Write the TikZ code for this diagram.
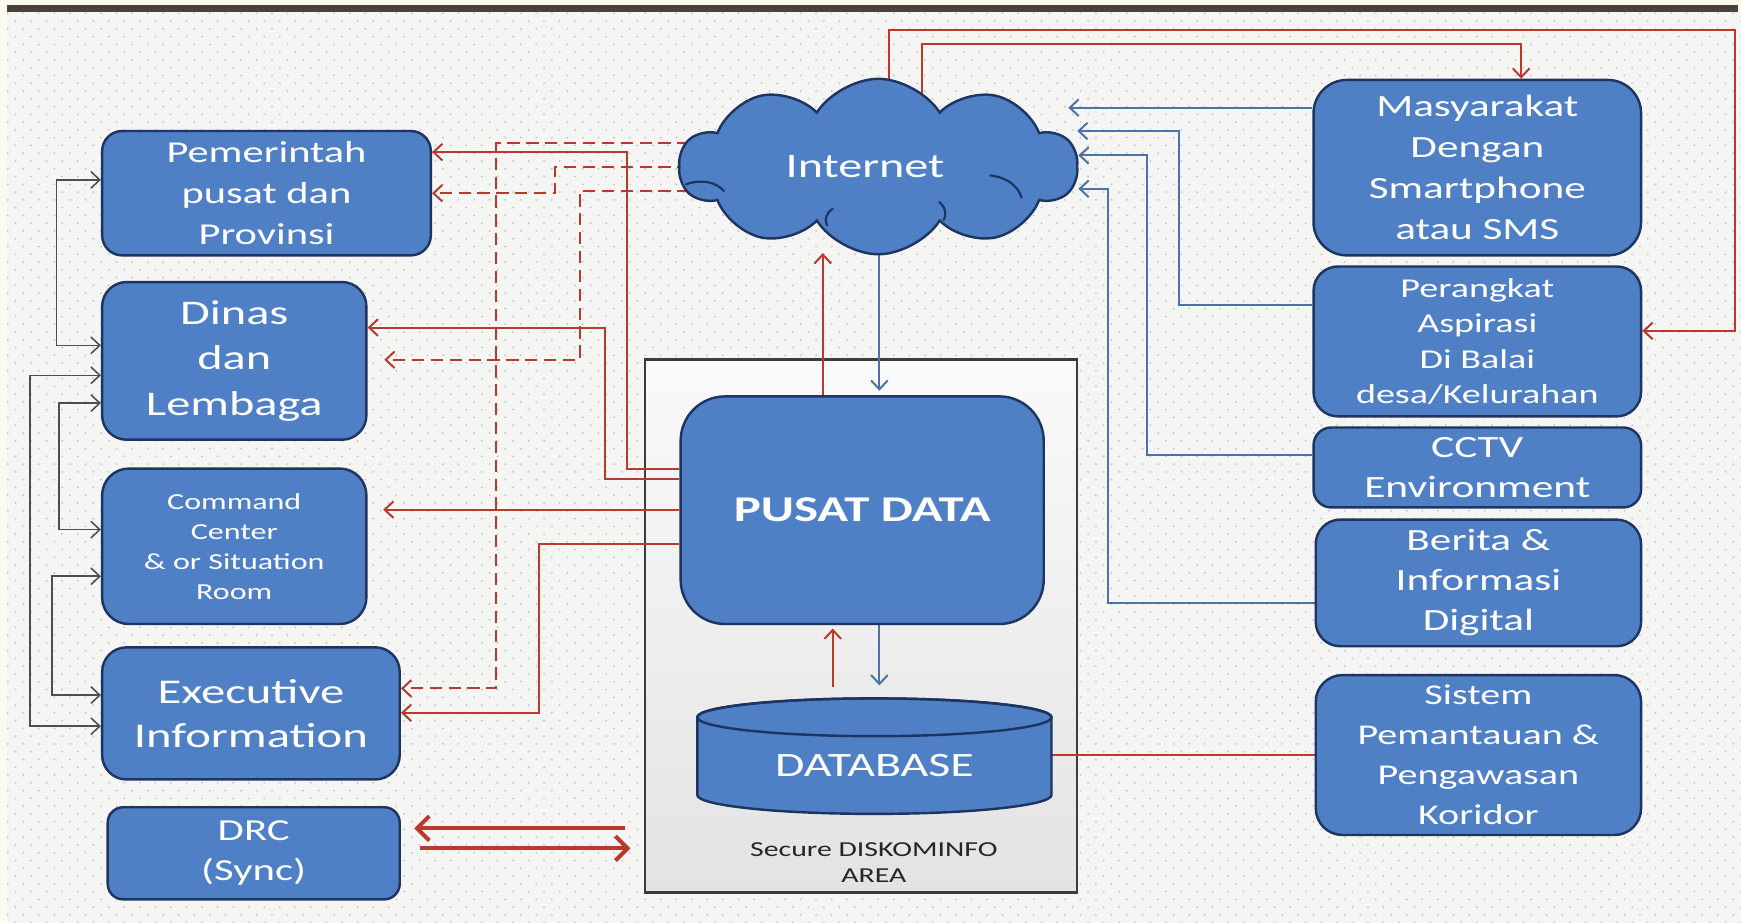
\documentclass[tikz,border=0pt]{standalone}
\usepackage{fontspec}
\setmainfont{Carlito}
\newfontfamily\wide{Carlito}[FakeStretch=1.4]
\usetikzlibrary{arrows.meta,shapes.symbols,patterns.meta,calc}

\definecolor{boxblue}{HTML}{4F80C6}
\definecolor{boxedge}{HTML}{1E3461}
\definecolor{linkred}{HTML}{B93A2C}
\definecolor{linkblue}{HTML}{4B73AA}
\definecolor{linkgray}{HTML}{4E4E4E}
\definecolor{paper}{HTML}{FAFAEF}
\definecolor{panel}{HTML}{F5F5F3}
\definecolor{dotgray}{HTML}{C2C2C2}
\definecolor{barbrown}{HTML}{4A413B}
\definecolor{zoneedge}{HTML}{3C3C3C}

\pgfdeclarelayer{back}
\pgfdeclarelayer{wires}
\pgfsetlayers{back,wires,main}

% stretched Carlito at a given size / leading (in pt)
\newcommand{\fs}[2]{\wide\fontsize{#1pt}{#2pt}\selectfont}

\tikzset{
  bluebox/.style={draw=boxedge, fill=boxblue, line width=2.2pt, rounded corners=#1,
    text=white, align=center, inner sep=0pt},
  bluebox/.default=18pt,
  barbtip/.style={arrows={-Straight Barb[length=8pt,width=15pt]}},
  redline/.style={draw=linkred, line width=1.8pt},
  redw/.style={redline, barbtip},
  redd/.style={redw, dash pattern=on 11pt off 6pt},
  bluew/.style={draw=linkblue, line width=1.8pt, barbtip},
  grayw/.style={draw=linkgray, line width=1.4pt,
    arrows={Straight Barb[length=8pt,width=15pt]-Straight Barb[length=8pt,width=15pt]}},
  syncw/.style={draw=linkred, line width=3.6pt,
    arrows={-Straight Barb[length=11pt,width=22pt]}},
  curl/.style={draw=boxedge, line width=2pt, line cap=round},
}

\begin{document}
\begin{tikzpicture}[x=1pt,y=-1pt]
\useasboundingbox (0,0) rectangle (1568,831);

% ---------- page background, dotted panel, top bar, secure zone ----------
\begin{pgfonlayer}{back}
  \fill[paper] (0,0) rectangle (1568,831);
  \fill[panel] (6,10) rectangle (1568,831);
  \fill[pattern={Dots[distance=14pt,radius=0.9pt]}, pattern color=dotgray]
    (6,10) rectangle (1568,831);
  \fill[pattern={Dots[distance=14pt,radius=0.9pt,xshift=7pt,yshift=7pt]}, pattern color=dotgray]
    (6,10) rectangle (1568,831);
  \fill[barbrown] (6,4.5) rectangle (1565,10.5);
  \node[draw=zoneedge, line width=2.4pt, top color=white!96!gray, bottom color=gray!22,
        minimum width=389pt, minimum height=480pt, inner sep=0pt] (zone) at (775.5,564) {};
\end{pgfonlayer}

% ---------- left column ----------
\node[bluebox=18pt, minimum width=296pt, minimum height=112pt, font=\fs{27.3}{37}]
  (pem) at (240,174) {Pemerintah\\pusat dan\\Provinsi};
\node[bluebox=22pt, minimum width=238pt, minimum height=142pt, font=\fs{31.1}{41}]
  (dinas) at (211,325) {Dinas\\dan\\Lembaga};
\node[bluebox=24pt, minimum width=238pt, minimum height=140pt, font=\fs{20.6}{27}]
  (cmd) at (211,492) {Command\\Center\\\& or Situation\\Room};
\node[bluebox=22pt, minimum width=268pt, minimum height=119pt, font=\fs{31.3}{40}]
  (exe) at (226,642.5) {Executive\\Information};
\node[bluebox=14pt, minimum width=263pt, minimum height=83pt, font=\fs{27.5}{36}]
  (drc) at (228.5,768.5) {DRC\\(Sync)};

% ---------- centre ----------
\node[cloud, cloud puffs=10, cloud puff arc=115, cloud ignores aspect,
      draw=boxedge, fill=boxblue, line width=2.2pt, text=white, inner sep=0pt,
      minimum width=358pt, minimum height=158pt, font=\fs{31}{36}]
  (inet) at (791,150) {\hspace*{-24pt}Internet};
% inner puff strokes of the cloud
\draw[curl] (618,166) .. controls (632,161) and (645,164) .. (652,172);
\draw[curl] (892,158) .. controls (908,160) and (917,168) .. (920,178);
\draw[curl] (745,203) .. controls (742,198) and (744,192) .. (750,188);
\draw[curl] (850,198) .. controls (853,192) and (851,186) .. (846,182);

\node[bluebox=40pt, minimum width=327pt, minimum height=205pt, font=\fs{32.7}{38}\bfseries]
  (pusat) at (776.5,459.5) {PUSAT DATA};

% database drum
\filldraw[fill=boxblue, draw=boxedge, line width=2.2pt]
  (628,646) -- (628,716)
  arc[start angle=180, end angle=360, x radius=159.5pt, y radius=17pt]
  -- (947,646)
  arc[start angle=0, end angle=180, x radius=159.5pt, y radius=17pt] -- cycle;
\draw[boxedge, line width=2.2pt] (787.5,646) ellipse[x radius=159.5pt, y radius=17pt];
\node[minimum width=319pt, minimum height=104pt, inner sep=0pt, text=white, font=\fs{30.8}{36}]
  (db) at (787.5,680.5) {\raisebox{-9pt}[\height][\depth]{DATABASE}};

\node[text=black!85, align=center, font=\fs{19.2}{24}]
  (zonetxt) at (787,777) {Secure DISKOMINFO\\AREA};

% ---------- right column ----------
\node[bluebox=30pt, minimum width=295pt, minimum height=158pt, font=\fs{27.8}{37}]
  (masy) at (1330.5,151) {Masyarakat\\Dengan\\Smartphone\\atau SMS};
\node[bluebox=22pt, minimum width=295pt, minimum height=135pt, font=\fs{24.5}{32}]
  (per) at (1330.5,307.5) {Perangkat\\Aspirasi\\Di Balai\\desa/Kelurahan};
\node[bluebox=16pt, minimum width=295pt, minimum height=72pt, font=\fs{27.9}{36}]
  (cctv) at (1330.5,421) {CCTV\\Environment};
\node[bluebox=22pt, minimum width=293pt, minimum height=114pt, font=\fs{27.8}{36}]
  (ber) at (1331.5,525) {Berita \&\\Informasi\\Digital};
\node[bluebox=24pt, minimum width=293pt, minimum height=144pt, font=\fs{25.8}{36}]
  (sis) at (1331.5,680) {Sistem\\Pemantauan \&\\Pengawasan\\Koridor};

% ---------- connectors ----------
\begin{pgfonlayer}{wires}
  % internet out to the public and to village devices
  \draw[redw] (inet.center -| 801,0) |- (1563,27) |- (per.east |- 0,298);
  \draw[redw] (inet.center -| 830,0) |- (1370,40) -- (masy.north -| 1370,0);

  % data centre out to the agencies
  \draw[redw] (pusat.west |- 0,422) -| (565,137) -- (pem.east |- 0,137);
  \draw[redw] (pusat.west |- 0,431) -| (545,295) -- (dinas.east |- 0,295);
  \draw[redw] (pusat.west |- 0,459) -- ($(cmd.east |- 0,459)+(14,0)$);
  \draw[redw] (pusat.west |- 0,490) -| (485,642) -- (exe.east |- 0,642);

  % internet out to the agencies (dashed)
  \draw[redd] (inet.center |- 0,129) -| (447,620) -- (exe.east |- 0,620);
  \draw[redd] (inet.center |- 0,150) -| (500,174) -- (pem.east |- 0,174);
  \draw[redd] (inet.center |- 0,172) -| (522,324) -- ($(dinas.east |- 0,324)+(15,0)$);

  % data centre <-> internet
  \draw[redw] (pusat.north -| 741,0) -- ($(inet.center -| 741,0)+(0,78)$);
  \draw[bluew] (inet.center -| 792,0) -- ($(pusat.north -| 792,0)+(0,-4)$);

  % data centre <-> database
  \draw[redw] ($(db.north -| 750,0)+(0,-10)$) -- ($(pusat.south -| 750,0)+(0,3)$);
  \draw[bluew] (pusat.south -| 792,0) -- ($(db.north -| 792,0)+(0,-11)$);

  % database to corridor monitoring
  \draw[redline] (db.east |- 0,680) -- (sis.west |- 0,680);

  % disaster recovery sync
  \draw[syncw] ($(zone.west |- 0,746)+(-17,0)$) -- ($(drc.east |- 0,746)+(12,0)$);
  \draw[syncw] ($(drc.east |- 0,764)+(17,0)$) -- ($(zone.west |- 0,764)+(-12,0)$);

  % sources into the internet
  \draw[bluew] (masy.west |- 0,97) -- ($(inet.east |- 0,97)+(-9,0)$);
  \draw[bluew] (per.west |- 0,275) -| (1062,118) -- ($(inet.east |- 0,118)+(-1,0)$);
  \draw[bluew] (cctv.west |- 0,410) -| (1033,140) -- (inet.east |- 0,140);
  \draw[bluew] (ber.west |- 0,543) -| (998,170) -- (inet.east |- 0,170);

  % links between the agencies
  \draw[grayw] (pem.west |- 0,162) -| (51,236) |- (dinas.west |- 0,311);
  \draw[grayw] (dinas.west |- 0,338) -| (27,500) |- (exe.west |- 0,654);
  \draw[grayw] (dinas.west |- 0,363) -| (53,420) |- (cmd.west |- 0,477);
  \draw[grayw] (cmd.west |- 0,519) -| (47,570) |- (exe.west |- 0,626);
\end{pgfonlayer}
\end{tikzpicture}
\end{document}
